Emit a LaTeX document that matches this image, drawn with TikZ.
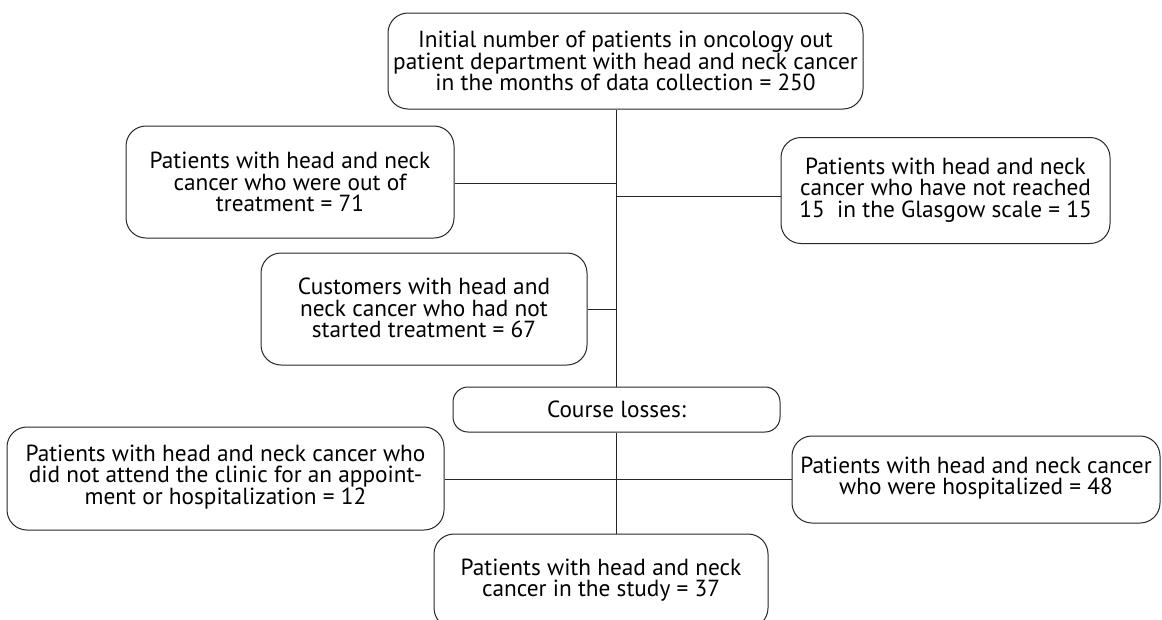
\documentclass[tikz,border=0pt]{standalone}
\usepackage{fontspec}
\setmainfont{PT Sans}
\usetikzlibrary{calc}
\begin{document}
\begin{tikzpicture}[x=1pt,y=-1pt,
  box/.style={draw=black!85, line width=1pt, rounded corners=20pt, inner sep=0pt},
  txt/.style={align=center, font=\fontsize{23.3}{21.3}\selectfont, inner sep=0pt},
  conn/.style={draw=black!85, line width=1pt}]
\useasboundingbox (0,0) rectangle (1162,619);
\clip (0,0) rectangle (1162,619);
% boxes
\node[box, minimum width=475pt, minimum height=96pt] (top) at (625.5,61) {};
\node[box, minimum width=328pt, minimum height=112pt] (left1) at (290,182) {};
\node[box, minimum width=329pt, minimum height=106pt] (right1) at (945.5,190.5) {};
\node[box, minimum width=326pt, minimum height=112pt] (mid) at (424,309) {};
\node[box, minimum width=327pt, minimum height=45pt, rounded corners=15pt] (course) at (616.5,409.5) {};
\node[box, minimum width=437pt, minimum height=103pt] (botleft) at (225.5,478.5) {};
\node[box, minimum width=368pt, minimum height=87pt] (botright) at (976,479.5) {};
\node[box, minimum width=334pt, minimum height=94pt] (bottom) at (601,581) {};
% texts
\node[txt] (ttop) at (625.5,61) {Initial number of patients in oncology out\\patient department with head and neck cancer\\in the months of data collection = 250};
\node[txt] (tleft1) at (290,182) {Patients with head and neck\\cancer who were out of\\treatment = 71};
\node[txt] (tright1) at (945.5,190) {Patients with head and neck\\cancer who have not reached\\15\ \ in the Glasgow scale = 15};
\node[txt] (tmid) at (424,308) {Customers with head and\\neck cancer who had not\\started treatment = 67};
\node[txt] (tcourse) at (616.5,409.5) {Course losses:};
\node[txt] (tbotleft) at (225.5,477) {Patients with head and neck cancer who\\did not attend the clinic for an appoint-\\ment or hospitalization = 12};
\node[txt] (tbotright) at (976,478) {Patients with head and neck cancer\\who were hospitalized = 48};
\node[txt] (tbottom) at (601,580) {Patients with head and neck\\cancer in the study = 37};
% connectors
\draw[conn] (top.south -| course.north) -- (course.north);
\draw[conn] (course.south) -- (course.south |- bottom.north);
\draw[conn] (left1.east |- 0,183) -- (course.north |- 0,183);
\draw[conn] (right1.west |- 0,196) -- (course.north |- 0,196);
\draw[conn] (mid.east) -- (mid.east -| course.north);
\draw[conn] (botleft.east |- 0,479) -- (botright.west |- 0,479);
\end{tikzpicture}
\end{document}
